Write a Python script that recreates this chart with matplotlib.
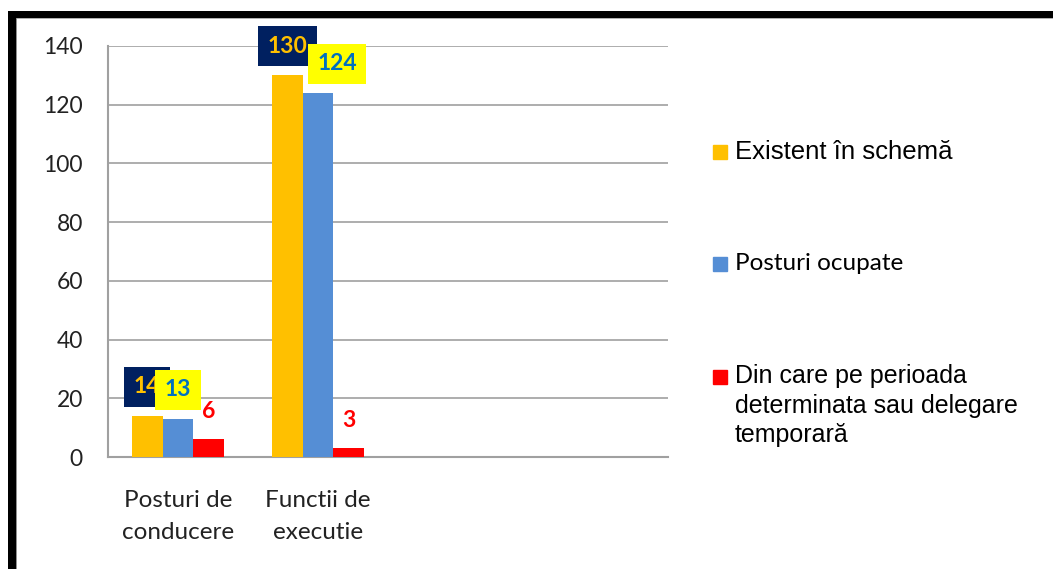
import matplotlib.pyplot as plt
from matplotlib.patches import Rectangle
import numpy as np

categories = ['Posturi de\nconducere', 'Functii de\nexecutie']
series_names = ['Existent în schemă', 'Posturi ocupate',
                'Din care pe perioada\ndeterminata sau delegare\ntemporară']
existent = [14, 130]
ocupate = [13, 124]
temporar = [6, 3]

colors = ['#FFC000', '#558ED5', '#FF0000']

W, H = 1053, 569
fig = plt.figure(figsize=(W / 100, H / 100), dpi=100)
fig.patch.set_facecolor('white')

# plot area in pixels: x 108..668, y 46..457
ax = fig.add_axes([108 / W, 1 - 457 / H, 560 / W, 411 / H])

x = np.arange(len(categories))
bw = 0.22
vals = [existent, ocupate, temporar]
offs = [-bw, 0, bw]
for v, o, c in zip(vals, offs, colors):
    ax.bar(x + o, v, bw, color=c, zorder=3)

ax.set_xlim(-0.5, 3.5)
ax.set_ylim(0, 140)
ax.set_yticks(range(0, 141, 20))
ax.yaxis.grid(True, color='#A0A0A0', linewidth=1.2, zorder=0)
ax.set_axisbelow(True)
for s in ['top', 'right']:
    ax.spines[s].set_visible(False)
for s in ['left', 'bottom']:
    ax.spines[s].set_color('#A0A0A0')
    ax.spines[s].set_linewidth(1.5)
ax.set_xticks(x)
ax.set_xticklabels(categories, fontsize=17.5, family='Lato', color='#222222',
                   linespacing=1.6)
ax.tick_params(axis='x', length=0, pad=24)
ax.tick_params(axis='y', length=0, pad=18, labelsize=16.5, labelcolor='#222222')
for t in ax.get_yticklabels():
    t.set_family('Lato')

# data labels
lab_kw = dict(textcoords='offset pixels', ha='center', va='center',
              fontsize=16.5, family='Lato', fontweight='bold', zorder=5)
box_style = 'square,pad=0.42'
for i in range(len(categories)):
    ax.annotate(str(existent[i]), (x[i] + offs[0], existent[i]), xytext=(0, 29),
                color='#FFC000',
                bbox=dict(boxstyle=box_style, fc='#002060', ec='none'),
                **lab_kw)
for i, dx in zip(range(len(categories)), [0, 19]):
    ax.annotate(str(ocupate[i]), (x[i] + offs[1], ocupate[i]), xytext=(dx, 29),
                color='#0070C0',
                bbox=dict(boxstyle=box_style, fc='#FFFF00', ec='none'),
                **lab_kw)
for i in range(len(categories)):
    ax.annotate(str(temporar[i]), (x[i] + offs[2], temporar[i]), xytext=(0, 28),
                color='#FF0000', **lab_kw)

# legend drawn by hand
leg_y = [152, 264, 364]
leg_fonts = [('Liberation Sans', 18.5), ('Lato', 17.5), ('Liberation Sans', 18)]
for name, c, yy, (fam, fs) in zip(series_names, colors, leg_y, leg_fonts):
    my = yy if '\n' not in name else 377
    fig.add_artist(Rectangle((713 / W, 1 - (my + 7) / H), 14 / W, 14 / H,
                             transform=fig.transFigure, color=c))
    fig.text(735 / W, 1 - yy / H, name, ha='left',
             va='top' if '\n' in name else 'center',
             fontsize=fs, family=fam, color='black', linespacing=1.3)

# black frame (top and left)
def band(x0, y0, w, h, c='black'):
    fig.add_artist(Rectangle((x0 / W, 1 - (y0 + h) / H), w / W, h / H,
                             transform=fig.transFigure, color=c, lw=0))

band(8, 11, W - 8, 7)
band(8, 18, W - 8, 1, '#B0B0B0')
band(8, 11, 2.5, H - 11)
band(11, 11, 4.5, H - 11)
band(15.5, 18, 1, H - 18, '#909090')

fig.savefig('out.png', dpi=100, facecolor='white')
